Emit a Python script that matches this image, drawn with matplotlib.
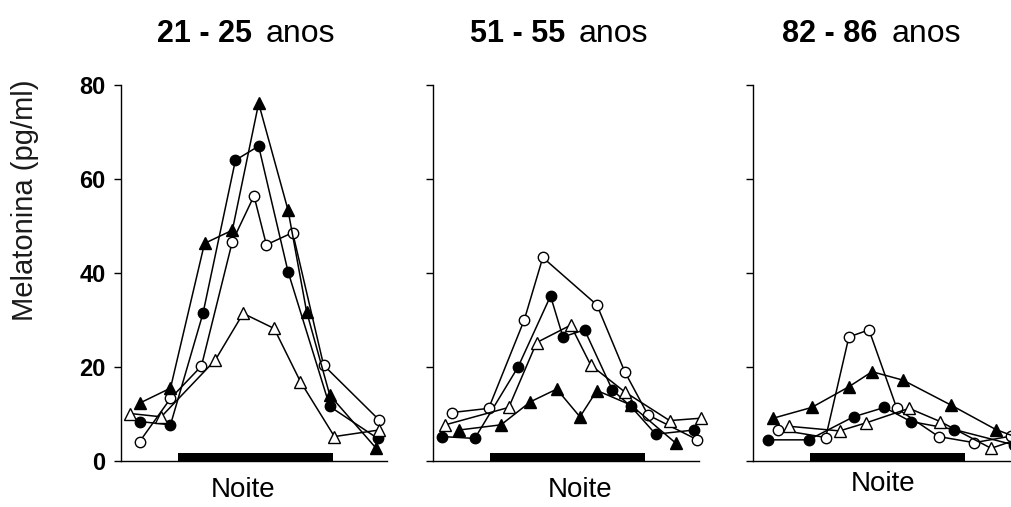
import matplotlib.pyplot as plt

plt.rcParams['font.family'] = ['Liberation Sans', 'DejaVu Sans']

# faixas etarias
faixas = ["21 - 25", "51 - 55", "82 - 86"]
noite = (21, 31)  # horas (barra preta)

# 21 - 25 anos  (hora do relogio, >24 = dia seguinte)
h1_fc = [18.5, 20.5, 22.6, 24.7, 26.2, 28.1, 30.8, 33.9]
v1_fc = [8.4, 7.7, 31.4, 64.0, 67.0, 40.3, 11.6, 4.8]
h1_oc = [18.5, 20.5, 22.5, 24.5, 25.9, 26.7, 28.4, 30.4, 34.0]
v1_oc = [4.1, 13.3, 20.2, 46.7, 56.4, 46.0, 48.6, 20.4, 8.7]
h1_ft = [18.5, 20.5, 22.7, 24.5, 26.2, 28.1, 29.3, 30.8, 33.8]
v1_ft = [12.3, 15.5, 46.3, 49.1, 76.1, 53.4, 31.8, 14.0, 2.7]
h1_ot = [17.9, 19.9, 23.4, 25.2, 27.2, 28.9, 31.1, 34.0]
v1_ot = [10.1, 9.4, 21.5, 31.4, 28.2, 16.9, 5.2, 6.6]

# 51 - 55 anos
h2_fc = [17.9, 20.0, 22.8, 24.9, 25.7, 27.1, 28.9, 30.1, 31.7, 34.2]
v2_fc = [5.2, 4.8, 20.0, 35.1, 26.4, 27.9, 15.1, 11.6, 5.7, 6.6]
h2_oc = [18.5, 20.9, 23.2, 24.4, 27.9, 29.7, 31.2, 34.4]
v2_oc = [10.3, 11.2, 30.0, 43.3, 33.2, 19.0, 9.8, 4.5]
h2_ft = [19.0, 21.7, 23.6, 25.3, 26.8, 27.9, 30.1, 33.0]
v2_ft = [6.6, 7.7, 12.6, 15.3, 9.4, 15.0, 11.9, 3.8]
h2_ot = [18.1, 22.2, 24.0, 26.2, 27.5, 29.7, 32.6, 34.6]
v2_ot = [7.7, 11.4, 25.2, 28.9, 20.4, 14.7, 8.6, 9.1]

# 82 - 86 anos
h3_fc = [18.3, 20.9, 23.8, 25.8, 27.5, 30.3, 34.2]
v3_fc = [4.5, 4.5, 9.4, 11.4, 8.4, 6.7, 3.4]
h3_oc = [18.9, 22.0, 23.5, 24.8, 26.6, 29.3, 31.6, 34.0]
v3_oc = [6.7, 5.0, 26.4, 27.9, 11.2, 5.2, 3.9, 5.3]
h3_ft = [18.6, 21.1, 23.5, 25.0, 27.0, 30.1, 33.0, 35.2]
v3_ft = [9.1, 11.4, 15.8, 19.0, 17.2, 11.9, 6.7, 4.0]
h3_ot = [19.6, 22.9, 24.6, 27.4, 29.4, 32.7, 34.3]
v3_ot = [7.4, 6.4, 8.1, 11.2, 8.4, 2.7, 4.5]

paineis = [
    [(h1_fc, v1_fc), (h1_oc, v1_oc), (h1_ft, v1_ft), (h1_ot, v1_ot)],
    [(h2_fc, v2_fc), (h2_oc, v2_oc), (h2_ft, v2_ft), (h2_ot, v2_ot)],
    [(h3_fc, v3_fc), (h3_oc, v3_oc), (h3_ft, v3_ft), (h3_ot, v3_ot)],
]
# marcador, preenchimento
estilos = [("o", "black"), ("o", "white"), ("^", "black"), ("^", "white")]

W, H = 1012, 507
fig = plt.figure(figsize=(W / 100, H / 100), dpi=100)

esquerda = [121, 433, 753]
titulo_x = [0.135, 0.139, 0.109]
noite_xy = [(0.459, -0.076), (0.553, -0.076), (0.489, -0.060)]

for i, series in enumerate(paineis):
    ax = fig.add_axes([esquerda[i] / W, 46 / H, 266 / W, 376 / H])
    for (h, v), (mk, fc) in zip(series, estilos):
        ax.plot(h, v, color="black", lw=1.1, marker=mk, ms=8 if mk == "^" else 7.5,
                mfc=fc, mec="black", mew=1.0, clip_on=False)
    ax.fill_between(noite, 0, 1.8, color="black", lw=0)

    ax.set_xlim(17.3, 34.5)
    ax.set_ylim(0, 80)
    ax.set_xticks([])
    ax.set_yticks([0, 20, 40, 60, 80])
    ax.tick_params(axis="y", direction="out", length=5, width=1, pad=6,
                   labelsize=17, labelleft=(i == 0))
    for lab in ax.get_yticklabels():
        lab.set_fontweight("bold")
    for s in ["top", "right"]:
        ax.spines[s].set_visible(False)
    for s in ["left", "bottom"]:
        ax.spines[s].set_linewidth(1.0)

    t = ax.text(titulo_x[i], 1.114, faixas[i], transform=ax.transAxes,
                fontsize=22, fontweight="bold", ha="left", va="baseline")
    ax.annotate("anos", xy=(1, 0), xycoords=t, xytext=(10, 0),
                textcoords="offset points", fontsize=23, ha="left", va="bottom")
    ax.text(noite_xy[i][0], noite_xy[i][1], "Noite", transform=ax.transAxes,
            fontsize=20, ha="center", va="center")

fig.text(25 / W, 1 - 200 / H, "Melatonina (pg/ml)", rotation=90,
         fontsize=21, ha="center", va="center", color="#1a1a1a")

fig.savefig("out.png", dpi=100)
